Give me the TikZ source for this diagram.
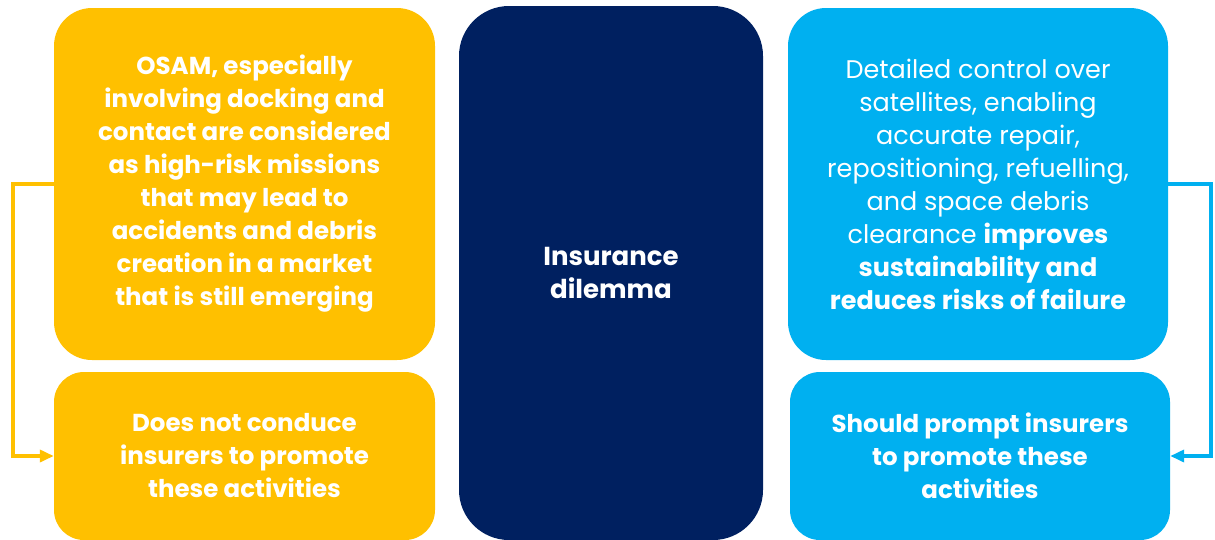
\documentclass[tikz,border=0pt]{standalone}
\usepackage{fontspec}
\setmainfont{Poppins}
\usetikzlibrary{arrows.meta}

\definecolor{osamyellow}{HTML}{FFC000}
\definecolor{osamnavy}{HTML}{002060}
\definecolor{osamblue}{HTML}{00B0F0}

\begin{document}
\begin{tikzpicture}[x=1pt,y=-1pt,>={Triangle[length=14pt,width=12pt]},
                    box node/.style={draw=none,rounded corners=38pt,align=center,text=white,
                                     inner sep=0pt,font=\fontsize{24.5}{33}\selectfont},
                    yellow node/.style={box node,fill=osamyellow},
                    blue node/.style={box node,fill=osamblue},
                    link/.style={->,line width=3.5pt}]

  \useasboundingbox (0,0) rectangle (1215,539);

  \node[yellow node,minimum width=381pt,minimum height=352pt] (osam) at (244.5,184)
    {\bfseries OSAM, especially\\ \bfseries involving docking and\\ \bfseries contact are considered\\
     \bfseries as high-risk missions\\ \bfseries that may lead to\\ \bfseries accidents and debris\\
     \bfseries creation in a market\\ \bfseries that is still emerging};
  \node[yellow node,rounded corners=30pt,minimum width=381pt,minimum height=168pt] (notpromote) at (244.5,456)
    {\bfseries Does not conduce\\ \bfseries insurers to promote\\ \bfseries these activities};

  \node[box node,fill=osamnavy,rounded corners=50pt,minimum width=304pt,minimum height=534pt,
        font=\fontsize{26}{33}\selectfont] (dilemma) at (611,273)
    {\bfseries Insurance\\ \bfseries dilemma};

  \node[blue node,minimum width=380pt,minimum height=352pt,font=\fontsize{25.5}{33}\selectfont] (control) at (978,184)
    {Detailed control over\\ satellites, enabling\\ accurate repair,\\ repositioning, refuelling,\\
     and space debris\\ clearance \textbf{improves}\\ \textbf{sustainability and}\\
     \textbf{reduces risks of failure}};
  \node[blue node,rounded corners=30pt,minimum width=380pt,minimum height=168pt] (promote) at (980,456)
    {\bfseries Should prompt insurers\\ \bfseries to promote these\\ \bfseries activities};

  \draw[link,osamyellow] (osam.west) -- ++(-41,0) |- (notpromote.west);
  \draw[link,osamblue] (control.east) -- ++(43,0) |- (promote.east);

\end{tikzpicture}
\end{document}
